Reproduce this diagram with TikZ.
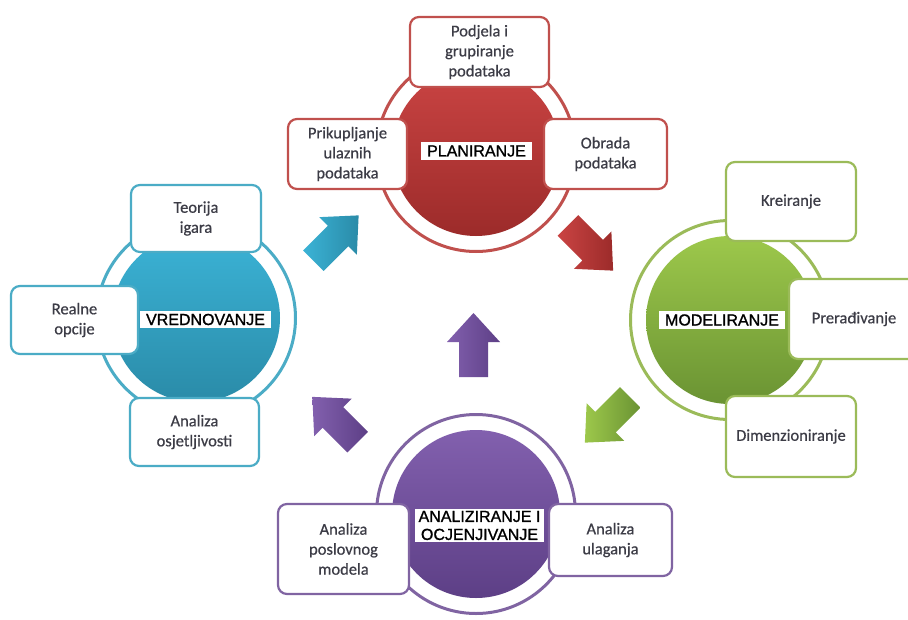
\documentclass[tikz,border=0pt]{standalone}
\usepackage{fontspec}
\setmainfont{Carlito}
\newfontface\boxfont{Carlito}[FakeBold=0.6]
\newfontface\labelfont{Liberation Sans}[FakeBold=1.2]
\definecolor{cRed}{HTML}{C0504D}
\definecolor{cRedT}{HTML}{CA4443}
\definecolor{cRedB}{HTML}{9C2B2A}
\definecolor{cBlue}{HTML}{4BACC6}
\definecolor{cBlueT}{HTML}{3BB3D6}
\definecolor{cBlueB}{HTML}{2A8BA8}
\definecolor{cGreen}{HTML}{9BBB59}
\definecolor{cGreenT}{HTML}{9DC84B}
\definecolor{cGreenB}{HTML}{6A9333}
\definecolor{cPurple}{HTML}{8064A2}
\definecolor{cPurpleT}{HTML}{8260AE}
\definecolor{cPurpleB}{HTML}{5D3F86}
\definecolor{txt}{HTML}{3C3C46}
\tikzset{
  ring/.style={circle, draw=#1, line width=3pt, minimum size=199pt, inner sep=0pt},
  core/.style 2 args={circle, top color=#1, bottom color=#2, minimum size=168pt, inner sep=0pt, draw=none},
  item/.style={draw=#1, fill=white, rounded corners=9pt, line width=2.2pt, text=txt, align=center,
    font=\boxfont\fontsize{16.5}{20}\selectfont, inner sep=0pt},
  lbl/.style={fill=white, text=black, font=\labelfont\fontsize{16}{18}\selectfont,
    inner xsep=6pt, inner ysep=3pt, align=center},
  pics/blockarrow/.style 2 args={code={
    \shade[left color=#1, right color=#2]
      (32,0) -- (3,26.5) -- (3,14.5) -- (-32,14.5) -- (-32,-14.5) -- (3,-14.5) -- (3,-26.5) -- cycle;}}
}
\begin{document}
\begin{tikzpicture}[x=1pt,y=-1pt]
\clip (0,0) rectangle (908,619);
\fill[white] (0,0) rectangle (908,619);

% rings and cores
\node[ring=cRed] (redring) at (476,152) {};
\node[core={cRedT}{cRedB}] (redcore) at (476,152) {};
\node[ring=cGreen] (greenring) at (730,320) {};
\node[core={cGreenT}{cGreenB}] (greencore) at (730,320) {};
\node[ring=cBlue] (bluering) at (196,318) {};
\node[core={cBlueT}{cBlueB}] (bluecore) at (196,318) {};
\node[ring=cPurple] (purplering) at (476,514) {};
\node[core={cPurpleT}{cPurpleB}] (purplecore) at (476,514) {};

% block arrows
\pic[rotate=45] (arrBlue) at (336,238) {blockarrow={cBlueT}{cBlueB}};
\pic[rotate=-45] (arrRed) at (590.5,248) {blockarrow={cRedT}{cRedB}};
\pic[rotate=-135] (arrGreen) at (607.5,420) {blockarrow={cGreenT}{cGreenB}};
\pic[rotate=135] (arrPurpleA) at (335,419.5) {blockarrow={cPurpleT}{cPurpleB}};
\pic[rotate=90] (arrPurpleB) at (473.5,345) {blockarrow={cPurpleT}{cPurpleB}};

% red cluster
\node[item=cRed, minimum width=139pt, minimum height=70pt] (podjela) at (479.5,52) {Podjela i\\grupiranje\\podataka};
\node[item=cRed, minimum width=119pt, minimum height=70pt] (prik) at (347.5,154) {Prikupljanje\\ulaznih\\podataka};
\node[item=cRed, minimum width=123pt, minimum height=70pt] (obrada) at (605.5,154) {Obrada\\podataka};
\node[lbl] (plan) at (476.5,151) {PLANIRANJE};

% green cluster
\node[item=cGreen, minimum width=130pt, minimum height=79pt] (kreir) at (791,201.5) {Kreiranje};
\node[item=cGreen, minimum width=130pt, minimum height=80pt] (prerad) at (854,319) {Prerađivanje};
\node[item=cGreen, minimum width=130pt, minimum height=81pt] (dimen) at (791,436.5) {Dimenzioniranje};
\node[lbl] (model) at (722,320) {MODELIRANJE};

% blue cluster
\node[item=cBlue, minimum width=130pt, minimum height=67pt] (teorija) at (196,218.5) {Teorija\\igara};
\node[item=cBlue, minimum width=127pt, minimum height=68pt] (realne) at (74.5,320) {Realne\\opcije};
\node[item=cBlue, minimum width=129pt, minimum height=68pt] (osjet) at (194.5,432) {Analiza\\osjetljivosti};
\node[lbl] (vred) at (205.5,319.5) {VREDNOVANJE};

% purple cluster
\node[item=cPurple, minimum width=131pt, minimum height=90pt] (poslovni) at (343.5,549) {Analiza\\poslovnog\\modela};
\node[item=cPurple, minimum width=123pt, minimum height=72pt] (ulaganja) at (610.5,540) {Analiza\\ulaganja};
\node[lbl, inner xsep=4pt, inner ysep=2pt] (anal) at (479.5,525.5) {ANALIZIRANJE I\\OCJENJIVANJE};
\end{tikzpicture}
\end{document}
